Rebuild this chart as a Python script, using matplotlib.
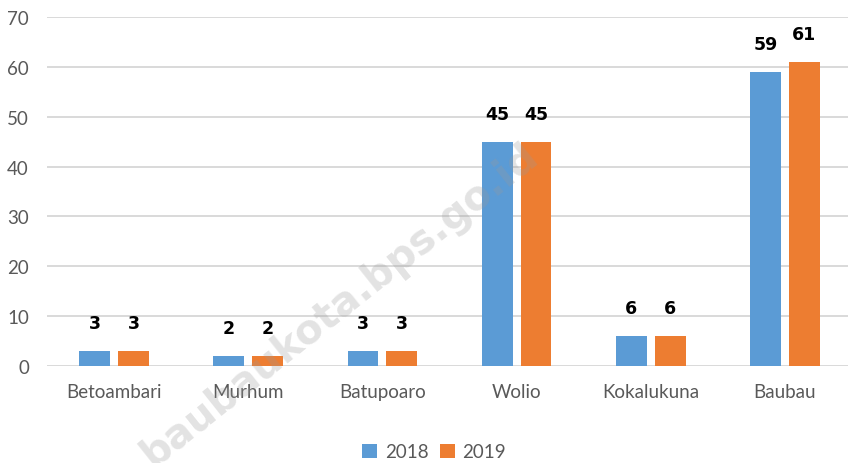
import matplotlib
matplotlib.use("Agg")
import matplotlib.pyplot as plt
import matplotlib.patheffects as pe
import numpy as np

categories = ["Betoambari", "Murhum", "Batupoaro", "Wolio", "Kokalukuna", "Baubau"]
series_names = ["2018", "2019"]
values_2018 = [3, 2, 3, 45, 6, 59]
values_2019 = [3, 2, 3, 45, 6, 61]
yticks = [0, 10, 20, 30, 40, 50, 60, 70]
watermark = "baubaukota.bps.go.id"

W, H = 848, 464
fig = plt.figure(figsize=(W / 100, H / 100), dpi=100)
ax = fig.add_axes([47 / W, 1 - 367 / H, 805 / W, 349 / H])

x = np.arange(len(categories))
bw = 0.23
off = 0.145
colors = ["#5B9BD5", "#ED7D31"]
b1 = ax.bar(x - off, values_2018, bw, color=colors[0], label=series_names[0], zorder=3)
b2 = ax.bar(x + off, values_2019, bw, color=colors[1], label=series_names[1], zorder=3)

for bars, vals in ((b1, values_2018), (b2, values_2019)):
    for rect, v in zip(bars, vals):
        ax.annotate(str(v), (rect.get_x() + rect.get_width() / 2, v),
                    xytext=(0, 28), textcoords="offset pixels",
                    ha="center", va="center", fontsize=12.5, fontweight="heavy",
                    family="DejaVu Sans", color="black", zorder=5)

ax.set_xlim(-0.5, len(categories) - 0.5)
ax.set_ylim(0, 70)
ax.set_yticks(yticks)
ax.set_xticks(x)
ax.set_xticklabels(categories)
ax.grid(axis="y", color="#d9d9d9", lw=1.4, zorder=0)
ax.set_axisbelow(True)
for s in ax.spines.values():
    s.set_visible(False)
ax.tick_params(axis="both", length=0, labelsize=13.5, labelcolor="#595959")
ax.tick_params(axis="y", pad=13)
ax.tick_params(axis="x", pad=12)
for lab in ax.get_xticklabels() + ax.get_yticklabels():
    lab.set_family("Lato")

leg = fig.legend(handles=[b1, b2], labels=series_names, loc="center",
                 bbox_to_anchor=(434 / W, 1 - 453 / H), ncol=2, frameon=False,
                 handlelength=0.8, handleheight=0.8, handletextpad=0.4,
                 columnspacing=0.6, prop={"family": "Lato", "size": 13.5})
for t in leg.get_texts():
    t.set_color("#595959")

fig.text(340 / W, 1 - 305 / H, watermark, rotation=38.5, ha="center", va="center",
         fontsize=29, fontweight="bold", family="DejaVu Sans",
         color="#9a9a9a", alpha=0.28, zorder=10)

fig.savefig("out.png", dpi=100)
